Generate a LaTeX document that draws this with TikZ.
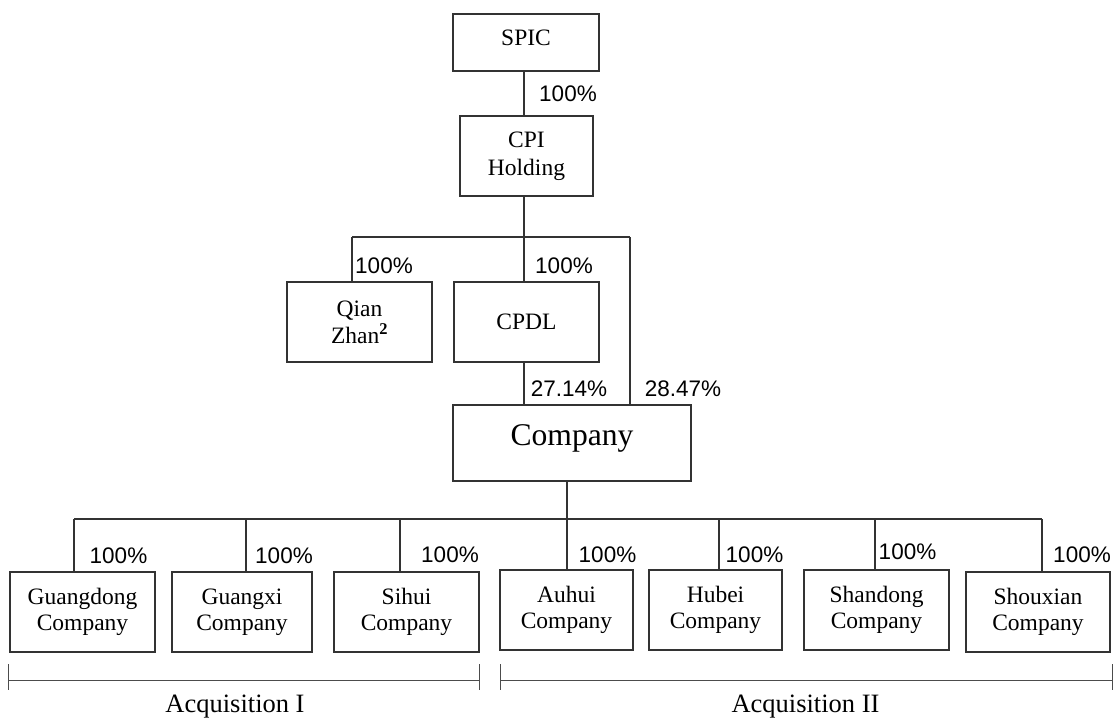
\documentclass[tikz,border=0pt]{standalone}
\usepackage{fontspec}
\setmainfont{Liberation Serif}
\newfontfamily\arialfam{Liberation Sans}
\newcommand\bxfont{\fontsize{23.5}{26}\selectfont}
\newcommand\pcfont{\arialfam\fontsize{22.5}{26}\selectfont}
\newcommand\bigbxfont{\fontsize{31.6}{36}\selectfont}
\newcommand\acqfont{\fontsize{26.5}{30}\selectfont}
\tikzset{
  box/.style={draw=black!80, line width=1.1pt, inner sep=0pt, align=center, font=\bxfont},
  pct/.style={font=\pcfont, inner sep=0pt},
  conn/.style={draw=black!80, line width=1.1pt},
  brk/.style={draw=black!70, line width=1pt},
  acq/.style={font=\acqfont, inner sep=0pt, anchor=base},
}
\begin{document}
\begin{tikzpicture}[x=1pt,y=-1pt]
\useasboundingbox (0,0) rectangle (1115,718);
% top boxes
\node[box, minimum width=146pt, minimum height=57pt, text height=16pt, text depth=9.6pt] (spic) at (526,42.5) {SPIC};
\node[box, minimum width=133pt, minimum height=80pt, font=\fontsize{23.5}{28}\selectfont] (cpi) at (526.5,156) {CPI\\Holding};
\node[box, minimum width=145pt, minimum height=80pt] (qian) at (359.5,322) {Qian\\[1pt]Zhan\textsuperscript{\textbf{2}}};
\node[box, minimum width=145pt, minimum height=80pt] (cpdl) at (526.5,322) {CPDL};
\node[box, minimum width=238pt, minimum height=76pt, font=\bigbxfont, text height=21pt, text depth=17pt] (company) at (572,443) {Company};
% children
\node[box, minimum width=145pt, minimum height=80pt] (gd) at (82.5,612) {Guangdong\\Company};
\node[box, minimum width=140pt, minimum height=80pt] (gx) at (242,612) {Guangxi\\Company};
\node[box, minimum width=145pt, minimum height=80pt] (sh) at (406.5,612) {Sihui\\Company};
\node[box, minimum width=133pt, minimum height=80pt] (ah) at (566.5,610) {Auhui\\Company};
\node[box, minimum width=133pt, minimum height=80pt] (hb) at (715.5,610) {Hubei\\Company};
\node[box, minimum width=145pt, minimum height=80pt] (sd) at (876.5,610) {Shandong\\Company};
\node[box, minimum width=144pt, minimum height=80pt] (sx) at (1038,612) {Shouxian\\Company};
% junctions
\coordinate (j1) at (524,237);
\coordinate (j1l) at (352,237);
\coordinate (j1r) at (630,237);
\coordinate (j2) at (567,519);
\coordinate (d1) at (74,519);
\coordinate (d2) at (246,519);
\coordinate (d3) at (400,519);
\coordinate (d5) at (719,519);
\coordinate (d6) at (875,519);
\coordinate (d7) at (1042,519);
% connectors upper
\draw[conn] (spic.south -| j1) -- (cpi.north -| j1);
\draw[conn] (cpi.south -| j1) -- (j1);
\draw[conn] (j1l) -- (j1r);
\draw[conn] (j1l) -- (qian.north -| j1l);
\draw[conn] (j1) -- (cpdl.north -| j1);
\draw[conn] (j1r) -- (company.north -| j1r);
\draw[conn] (cpdl.south -| j1) -- (company.north -| j1);
% connectors lower
\draw[conn] (company.south -| j2) -- (j2);
\draw[conn] (d1) -- (d7);
\draw[conn] (d1) -- (gd.north -| d1);
\draw[conn] (d2) -- (gx.north -| d2);
\draw[conn] (d3) -- (sh.north -| d3);
\draw[conn] (j2) -- (ah.north -| j2);
\draw[conn] (d5) -- (hb.north -| d5);
\draw[conn] (d6) -- (sd.north -| d6);
\draw[conn] (d7) -- (sx.north -| d7);
% percentages
\node[pct] (p0) at (568,94) {100\%};
\node[pct] (p1) at (384,266) {100\%};
\node[pct] (p2) at (564,266) {100\%};
\node[pct] (p3) at (569,389) {27.14\%};
\node[pct] (p4) at (683,389) {28.47\%};
\node[pct] (p5) at (118.5,555.5) {100\%};
\node[pct] (p6) at (284,555.5) {100\%};
\node[pct] (p7) at (450,555) {100\%};
\node[pct] (p8) at (607.5,555) {100\%};
\node[pct] (p9) at (754.5,555) {100\%};
\node[pct] (p10) at (907.5,551.5) {100\%};
\node[pct] (p11) at (1082,555) {100\%};
% acquisition brackets
\coordinate (a1l) at (8,680);
\coordinate (a1r) at (479,680);
\coordinate (a2l) at (500,680);
\coordinate (a2r) at (1112,680);
\draw[brk] (a1l) -- (a1r);
\draw[brk] ([yshift=16pt]a1l) -- ([yshift=-10pt]a1l);
\draw[brk] ([yshift=16pt]a1r) -- ([yshift=-10pt]a1r);
\draw[brk] (a2l) -- (a2r);
\draw[brk] ([yshift=16pt]a2l) -- ([yshift=-10pt]a2l);
\draw[brk] ([yshift=16pt]a2r) -- ([yshift=-10pt]a2r);
\node[acq] (acq1) at (235,712) {Acquisition I};
\node[acq] (acq2) at (805.5,712) {Acquisition II};
\end{tikzpicture}
\end{document}
